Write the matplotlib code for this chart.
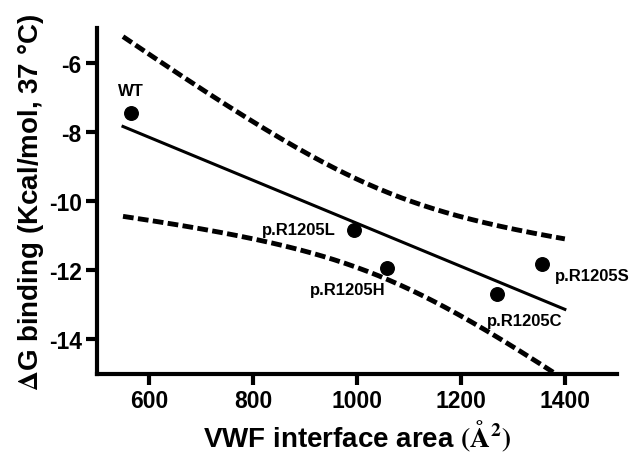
import numpy as np
import matplotlib
matplotlib.use("Agg")
import matplotlib.pyplot as plt

plt.rcParams['font.family'] = ['Liberation Sans', 'DejaVu Sans']
plt.rcParams['font.weight'] = 'bold'
plt.rcParams['mathtext.fontset'] = 'stix'
plt.rcParams['axes.unicode_minus'] = False

# values
area = np.array([565, 994, 1058, 1270, 1356])
dg = np.array([-7.45, -10.83, -11.93, -12.70, -11.83])
names = ['WT', 'p.R1205L', 'p.R1205H', 'p.R1205C', 'p.R1205S']
xticks = [600, 800, 1000, 1200, 1400]
yticks = [-14, -12, -10, -8, -6]

# label placement (offset in points, alignment)
label_pos = {
    'WT': ((0, 16), 'center'),
    'p.R1205L': ((-13, 0), 'right'),
    'p.R1205H': ((-1, -16), 'right'),
    'p.R1205C': ((20, -18.5), 'center'),
    'p.R1205S': ((9.5, -8), 'left'),
}

# linear fit + 95% confidence band
n = len(area)
slope, icpt = np.polyfit(area, dg, 1)
resid = dg - (slope * area + icpt)
s = np.sqrt(np.sum(resid ** 2) / (n - 2))
sxx = np.sum((area - area.mean()) ** 2)
t_crit = 3.182  # t(0.975, df=3)
xf = np.linspace(550, 1400, 200)
yf = slope * xf + icpt
half = t_crit * s * np.sqrt(1 / n + (xf - area.mean()) ** 2 / sxx)

fig = plt.figure(figsize=(6.32, 4.64), dpi=100)
ax = fig.add_axes([0.1535, 0.192, 0.8225, 0.7455])

ax.plot(xf, yf, color='black', lw=2.2)
for band in (yf + half, yf - half):
    ax.plot(xf, band, color='black', lw=3.5, ls=(0, (2.2, 0.9)))
ax.scatter(area, dg, s=95, color='black', zorder=3)

for x, y, nm in zip(area, dg, names):
    off, ha = label_pos[nm]
    ax.annotate(nm, (x, y), xytext=off, textcoords='offset points',
                ha=ha, va='center', fontsize=12, fontweight='bold',
                annotation_clip=False)

ax.set_xlim(500, 1500)
ax.set_ylim(-15, -5)
ax.set_xticks(xticks)
ax.set_yticks(yticks)
ax.tick_params(labelsize=16.5, width=3, length=8, pad=3)
for sp in ['top', 'right']:
    ax.spines[sp].set_visible(False)
for sp in ['left', 'bottom']:
    ax.spines[sp].set_linewidth(3)

ax.set_xlabel(r'VWF interface area $(\mathrm{\AA}^2)$', fontsize=20,
              fontweight='bold', labelpad=4)
ax.set_ylabel(r'$\Delta$G binding (Kcal/mol, 37 °C)', fontsize=20,
              fontweight='bold', labelpad=2)

fig.savefig('out.png', dpi=100)
